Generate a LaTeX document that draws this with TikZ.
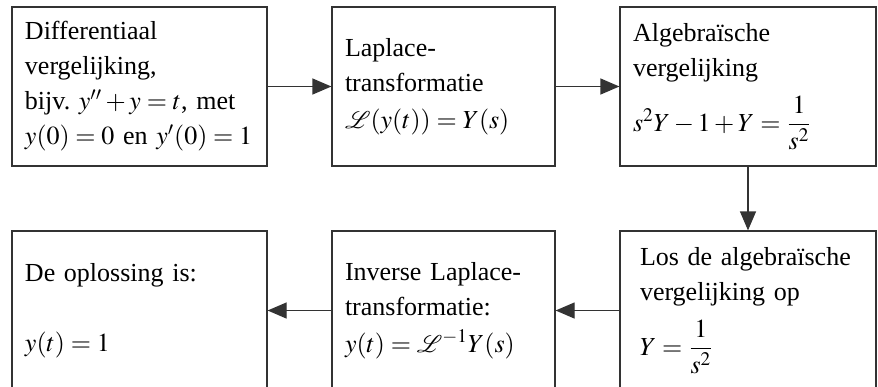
\documentclass[tikz,border=0pt]{standalone}
\usepackage{amsmath}
\usepackage{mathptmx}
\usepackage{mathrsfs}
\usepackage{fontspec}
\setmainfont{Liberation Serif}
\usetikzlibrary{arrows.meta}

\tikzset{
  blok/.style={draw=black!80, line width=.6pt, minimum height=79.5pt,
    inner xsep=6.5pt, inner ysep=0pt, text width=#1, align=left,
    font=\fontsize{13}{17.5}\selectfont},
  pijl/.style={draw=black!80, line width=.6pt,
    -{Triangle[length=9.5pt,width=8pt]}}
}

\begin{document}
\begin{tikzpicture}[x=.5pt, y=-.5pt]
  \useasboundingbox (0,0) rectangle (878,386);

  \coordinate (P1) at (139.5,86.5);
  \coordinate (P2) at (443.5,86.5);
  \coordinate (P3) at (748,86.5);
  \coordinate (P4) at (139.5,310.5);
  \coordinate (P5) at (443.5,310.5);
  \coordinate (P6) at (748,310.5);

  \node[blok=114.5pt] (DV) at (P1)
    {Differentiaal\\vergelijking,\\bijv.\ $y''+y=t$, met\\$y(0)=0$ en $y'(0)=1$};
  \node[blok=98.5pt] (LT) at (P2)
    {Laplace-\\transformatie\\[1pt]$\mathscr{L}(y(t))=Y(s)$};
  \node[blok=115pt] (AV) at (P3)
    {Algebraïsche\\vergelijking\\[6pt]$s^2Y-1+Y=\dfrac{1}{s^2}$};
  \node[blok=108pt, inner xsep=10pt] (LO) at (P6)
    {Los de algebraïsche\\vergelijking op\\[6pt]$Y=\dfrac{1}{s^2}$};
  \node[blok=98.5pt] (IL) at (P5)
    {Inverse Laplace-\\transformatie:\\[1pt]$y(t)=\mathscr{L}^{-1}Y(s)$};
  \node[blok=114.5pt] (OP) at (P4)
    {De oplossing is:\\[17.5pt]$y(t)=1$};

  \draw[pijl] (DV)--(LT);
  \draw[pijl] (LT)--(AV);
  \draw[pijl] (AV)--(LO);
  \draw[pijl] (LO)--(IL);
  \draw[pijl] (IL)--(OP);
\end{tikzpicture}
\end{document}
